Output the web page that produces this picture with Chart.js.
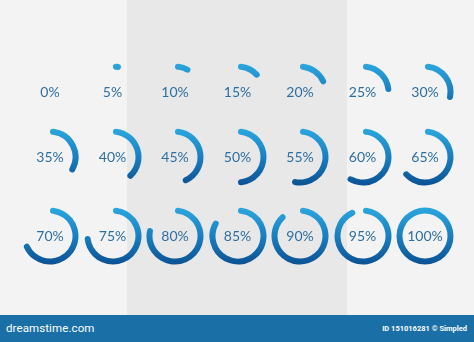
<!DOCTYPE html>
<html>
<head>
<meta charset="utf-8">
<script src="https://cdn.jsdelivr.net/npm/chart.js@4"></script>
<style>
  html, body { margin: 0; padding: 0; }
  body { width: 474px; height: 342px; overflow: hidden; position: relative; background: #f3f3f3; font-family: Lato, "Open Sans", sans-serif; }
  #band { position: absolute; left: 127px; top: 0; width: 220px; height: 315px; background: #e8e8e9; }
  .cell { position: absolute; width: 64px; height: 64px; }
  .cell canvas { position: absolute; left: 0; top: 0; }
  .cell span { position: absolute; left: 0; top: 0; width: 64px; line-height: 64px; text-align: center; font-size: 14px; color: #2d6fa2; }
  #bar { position: absolute; left: 0; top: 315px; width: 474px; height: 27px; background: #1a6fa7; color: #fff; }
  #bar .site { position: absolute; left: 6px; top: 6px; font-size: 11.5px; font-family: Roboto, sans-serif; letter-spacing: 0.1px; }
  #bar .id { position: absolute; right: 7px; top: 9px; font-size: 7.5px; font-weight: bold; font-family: Roboto, sans-serif; }
</style>
</head>
<body>
<div id="band"></div>
<div id="grid"></div>
<div id="bar"><span class="site">dreamstime.com</span><span class="id">ID 151016281 © Simpled</span></div>
<script>
const values = [0, 5, 10, 15, 20, 25, 30, 35, 40, 45, 50, 55, 60, 65, 70, 75, 80, 85, 90, 95, 100];
const labels = ['0%', '5%', '10%', '15%', '20%', '25%', '30%', '35%', '40%', '45%', '50%', '55%', '60%', '65%', '70%', '75%', '80%', '85%', '90%', '95%', '100%'];

const colX = [50, 112.5, 175, 237.5, 300, 362.5, 425];
const rowY = [92, 157, 236];
const size = 64;

// filled part gets a top-to-bottom blue gradient, the remainder stays empty
function ringColor(context) {
  if (context.dataIndex === 1) return 'rgba(0,0,0,0)';
  const chart = context.chart;
  const area = chart.chartArea;
  if (!area) return '#1d86c6';
  const g = chart.ctx.createLinearGradient(0, area.top, 0, area.bottom);
  g.addColorStop(0, '#2ba7de');
  g.addColorStop(0.5, '#1a7fc0');
  g.addColorStop(1, '#0b5294');
  return g;
}

const grid = document.getElementById('grid');
values.forEach((v, i) => {
  const cell = document.createElement('div');
  cell.className = 'cell';
  cell.style.left = (colX[i % 7] - size / 2) + 'px';
  cell.style.top = (rowY[Math.floor(i / 7)] - size / 2) + 'px';
  const canvas = document.createElement('canvas');
  canvas.width = size;
  canvas.height = size;
  const label = document.createElement('span');
  label.textContent = labels[i];
  cell.appendChild(canvas);
  cell.appendChild(label);
  grid.appendChild(cell);

  new Chart(canvas, {
    type: 'doughnut',
    data: {
      labels: ['done', 'rest'],
      datasets: [{
        data: [v, 100 - v],
        backgroundColor: ringColor,
        borderWidth: 0,
        borderRadius: v >= 100 ? 0 : 3,
        spacing: 0
      }]
    },
    options: {
      responsive: false,
      animation: false,
      events: [],
      cutout: '79%',
      layout: { padding: 3.5 },
      plugins: { legend: { display: false }, tooltip: { enabled: false } }
    }
  });
});
</script>
</body>
</html>
